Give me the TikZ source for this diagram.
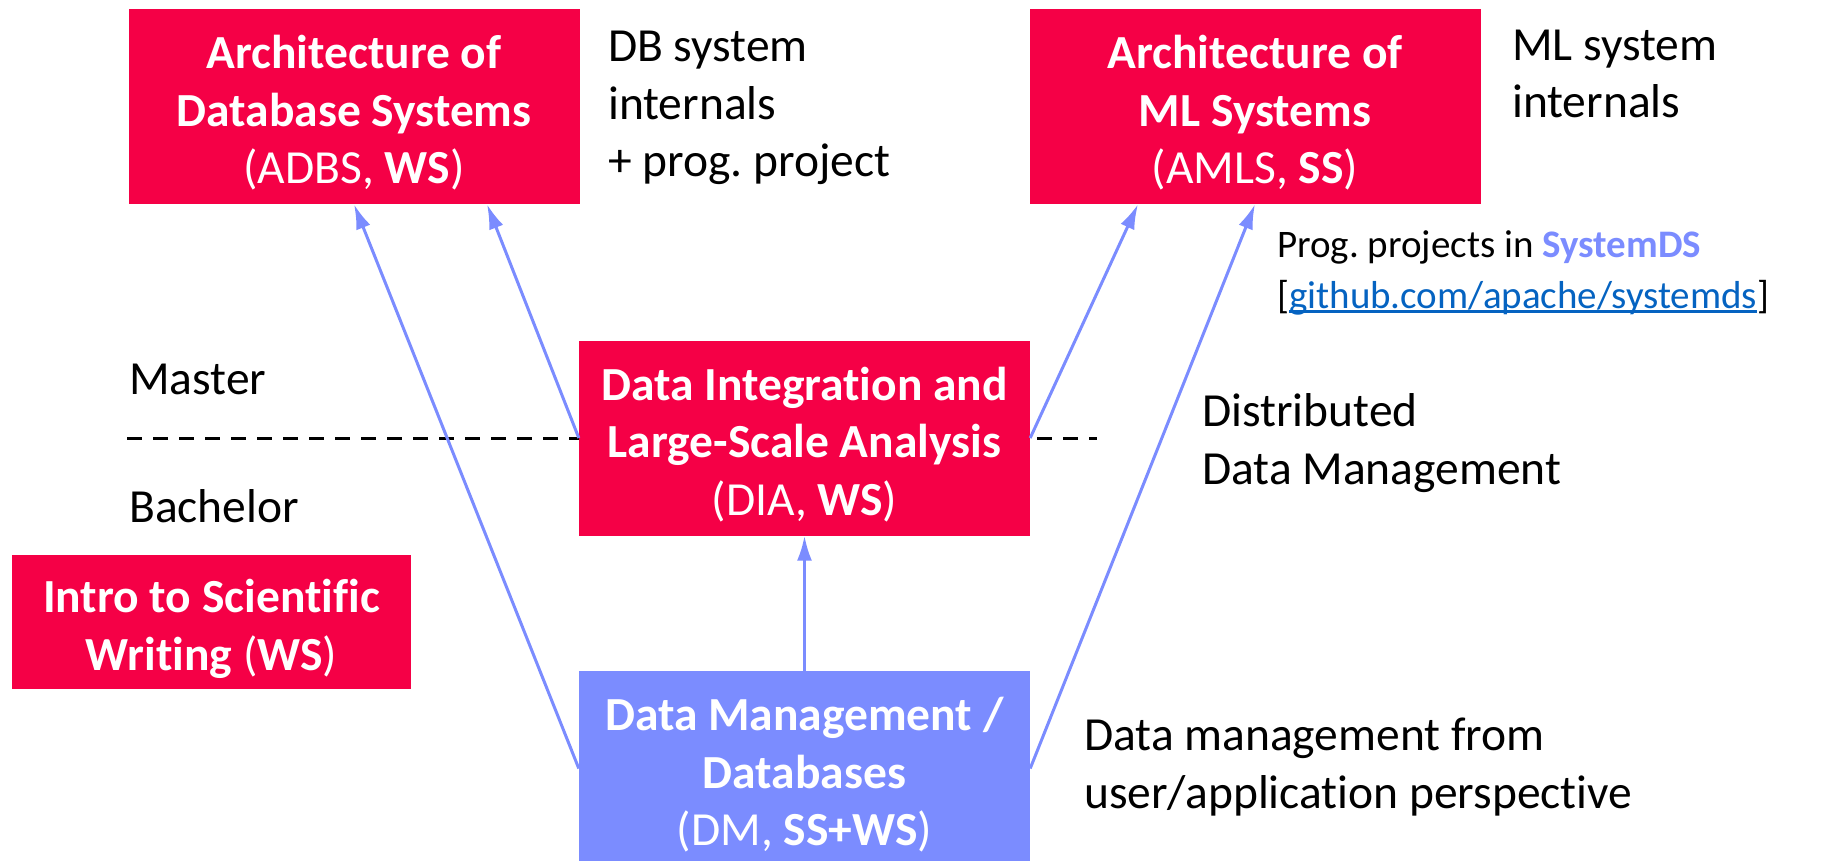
\documentclass[tikz,border=0pt]{standalone}
\usepackage{fontspec}
\setmainfont{Carlito}[Ligatures=NoCommon]
\usetikzlibrary{arrows.meta}
\definecolor{courseRed}{RGB}{245,0,70}
\definecolor{courseBlue}{RGB}{123,140,255}
\definecolor{linkBlue}{RGB}{5,99,193}
\newsavebox\ulbox
\newcommand\linkul[1]{\sbox\ulbox{#1}\rlap{\rule[-0.12em]{\wd\ulbox}{0.06em}}\usebox\ulbox}
% extra head room on a box's first line, so its text sits a little lower
\newcommand\headroom{\rule{0pt}{0.98em}}
\begin{document}
\frenchspacing
\begin{tikzpicture}[x=1pt,y=-1pt,
  coursebox/.style={fill=courseRed, text=white, inner sep=0pt, align=center,
    minimum width=451pt, minimum height=195pt, font=\fontsize{47.5}{57.5}\selectfont},
  basebox/.style={coursebox, fill=courseBlue},
  note/.style={inner sep=0pt, align=left, anchor=base west, font=\fontsize{47.5}{57.5}\selectfont},
  smallnote/.style={note, font=\fontsize{39}{51}\selectfont},
  prereq/.style={draw=courseBlue, line width=3pt, -{Latex[length=25pt,width=15pt]}},
  levelsep/.style={draw=black, line width=3pt, dash pattern=on 15pt off 11pt}
]
\path[use as bounding box] (0,0) rectangle (1830,861);
\clip (0,0) rectangle (1830,861);

% Master / Bachelor separator
\coordinate (sepL) at (127,438);
\coordinate (sepR) at (1097,438);
\draw[levelsep] (sepL) -- (sepR);

% course boxes
\node[coursebox] (adbs) at (354,106.5)
  {\headroom\textbf{Architecture of}\\\textbf{Database Systems}\\(ADBS, \textbf{WS})};
\node[coursebox] (amls) at (1255,106.5)
  {\headroom\textbf{Architecture of}\\\textbf{ML Systems}\\(AMLS, \textbf{SS})};
\node[coursebox] (dia) at (804.5,438)
  {\headroom\textbf{Data Integration and}\\\textbf{Large-Scale Analysis}\\(DIA, \textbf{WS})};
\node[basebox] (dm) at (804.5,768.5)
  {\headroom\textbf{Data Management /}\\\textbf{Databases}\\(DM, \textbf{SS+WS})};
\node[coursebox, minimum width=399pt, minimum height=134pt] (isw) at (211.5,622)
  {\headroom\textbf{Intro to Scientific}\\\textbf{Writing} (\textbf{WS})};

% prerequisite arrows
\draw[prereq] (dm.west) -- (adbs.south);
\draw[prereq] (dia.west) -- ([xshift=133pt]adbs.south);
\draw[prereq] (dia.east) -- ([xshift=-117pt]amls.south);
\draw[prereq] (dm.east) -- (amls.south);
\draw[prereq] (dm.north) -- (dia.south);

% annotations (anchored at the baseline of their last line)
\node[note] (dbnote) at (608,177) {DB system\\internals\\+ prog. project};
\node[note] (mlnote) at (1512,118) {ML system\\internals};
\node[smallnote] (projnote) at (1277,308)
  {Prog. projects in \textcolor{courseBlue}{\textbf{SystemDS}}\\
   {[}{\color{linkBlue}\linkul{github.com/apache/systemds}}]};
\node[note] (master) at (129,394) {Master};
\node[note] (bachelor) at (129,522) {Bachelor};
\node[note] (ddm) at (1202,484) {Distributed\\Data Management};
\node[note] (dmnote) at (1084,808) {Data management from\\user/application perspective};
\end{tikzpicture}
\end{document}
